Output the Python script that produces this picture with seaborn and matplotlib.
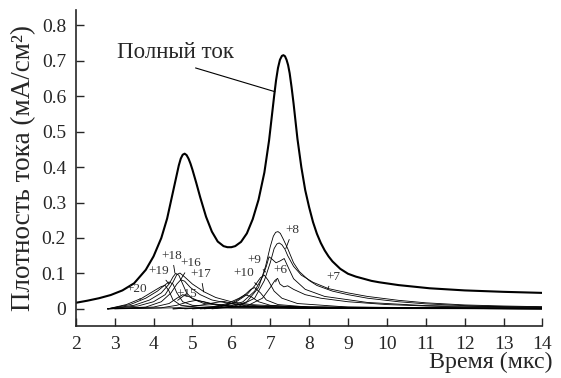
import numpy as np
import pandas as pd
import matplotlib
matplotlib.use("Agg")
import matplotlib.pyplot as plt
import seaborn as sns

# ---- total current (x: мкс, y: мА/см2) ----
total_t = [2.0, 2.3, 2.6, 2.9, 3.2, 3.5, 3.8, 4.0, 4.2, 4.35, 4.5, 4.6, 4.65,
           4.7, 4.75, 4.8, 4.85, 4.9, 4.95, 5.0, 5.1, 5.2, 5.35, 5.5, 5.65,
           5.8, 5.9, 6.0, 6.1, 6.25, 6.4, 6.55, 6.7, 6.85, 6.97, 7.1, 7.15,
           7.2, 7.25, 7.3, 7.34, 7.38, 7.42, 7.46, 7.5, 7.55, 7.6, 7.7, 7.8,
           7.9, 8.0, 8.1, 8.2, 8.3, 8.4, 8.5, 8.6, 8.8, 9.0, 9.2, 9.4, 9.6,
           9.8, 10.3, 11.1, 12.0, 13.0, 14.0]
total_j = [0.017, 0.023, 0.030, 0.039, 0.052, 0.072, 0.110, 0.148, 0.200, 0.255,
           0.330, 0.380, 0.405, 0.424, 0.435, 0.438, 0.434, 0.424, 0.410, 0.393,
           0.355, 0.315, 0.260, 0.218, 0.190, 0.177, 0.174, 0.174, 0.177, 0.189,
           0.213, 0.253, 0.308, 0.385, 0.475, 0.600, 0.645, 0.680, 0.703, 0.714,
           0.716, 0.713, 0.703, 0.688, 0.665, 0.625, 0.580, 0.480, 0.400, 0.335,
           0.287, 0.245, 0.212, 0.186, 0.165, 0.148, 0.134, 0.113, 0.099, 0.091,
           0.085, 0.079, 0.075, 0.067, 0.058, 0.052, 0.048, 0.045]

# ---- partial currents of charge states, (t, j) ----
c20 = [(2.82, 0), (3.3, 0.012), (3.7, 0.030), (4.0, 0.050), (4.2, 0.063), (4.3, 0.066),
       (4.4, 0.050), (4.5, 0.025), (4.7, 0.010), (5.2, 0.004), (6.0, 0.002), (8.0, 0.001), (14.0, 0)]
c19 = [(2.82, 0), (3.4, 0.012), (3.8, 0.030), (4.1, 0.050), (4.3, 0.068), (4.4, 0.076),
       (4.5, 0.070), (4.6, 0.045), (4.75, 0.020), (5.0, 0.010), (6.0, 0.004), (9.0, 0.002), (14.0, 0)]
c18 = [(2.82, 0), (3.5, 0.010), (3.9, 0.025), (4.2, 0.045), (4.4, 0.070), (4.5, 0.090),
       (4.57, 0.100), (4.65, 0.095), (4.75, 0.070), (4.85, 0.045), (5.0, 0.028), (5.3, 0.015),
       (6.0, 0.006), (14.0, 0.001)]
c17 = [(2.82, 0), (3.6, 0.008), (4.0, 0.020), (4.3, 0.040), (4.5, 0.075), (4.6, 0.097),
       (4.68, 0.101), (4.8, 0.090), (5.0, 0.070), (5.3, 0.048), (5.6, 0.032), (6.0, 0.020),
       (6.5, 0.012), (7.5, 0.006), (9.0, 0.003), (14.0, 0.001)]
c16 = [(2.82, 0), (3.8, 0.005), (4.2, 0.020), (4.45, 0.045), (4.6, 0.070), (4.7, 0.082),
       (4.8, 0.078), (4.95, 0.060), (5.2, 0.040), (5.5, 0.025), (6.0, 0.014), (7.0, 0.006), (14.0, 0.001)]
c15 = [(2.82, 0), (4.0, 0.005), (4.4, 0.015), (4.6, 0.030), (4.75, 0.040), (4.9, 0.035),
       (5.1, 0.025), (5.4, 0.016), (6.0, 0.008), (7.5, 0.003), (14.0, 0)]
c14 = [(2.82, 0), (4.2, 0.003), (4.6, 0.010), (4.9, 0.020), (5.1, 0.024), (5.3, 0.020),
       (5.6, 0.012), (6.2, 0.006), (8.0, 0.002), (14.0, 0)]
c13 = [(3.0, 0), (4.6, 0.003), (5.2, 0.010), (5.6, 0.018), (5.8, 0.021), (6.0, 0.016),
       (6.4, 0.008), (7.5, 0.003), (14.0, 0)]
c12 = [(4.5, 0), (5.5, 0.005), (5.9, 0.015), (6.2, 0.030), (6.35, 0.040), (6.5, 0.035),
       (6.7, 0.020), (7.0, 0.010), (8.0, 0.004), (14.0, 0)]
c11 = [(4.5, 0), (5.6, 0.005), (6.0, 0.015), (6.3, 0.035), (6.5, 0.055), (6.6, 0.060),
       (6.75, 0.045), (6.9, 0.025), (7.2, 0.012), (8.0, 0.005), (14.0, 0.001)]
c10 = [(4.8, 0), (5.7, 0.005), (6.1, 0.018), (6.4, 0.040), (6.6, 0.065), (6.75, 0.088),
       (6.85, 0.095), (6.95, 0.080), (7.1, 0.050), (7.3, 0.030), (7.7, 0.015), (9.0, 0.005), (14.0, 0.001)]
c9 = [(5.0, 0), (5.9, 0.005), (6.3, 0.020), (6.6, 0.050), (6.8, 0.090), (6.9, 0.120),
      (6.97, 0.147), (7.05, 0.140), (7.15, 0.130), (7.25, 0.135), (7.36, 0.142), (7.45, 0.120),
      (7.6, 0.085), (7.9, 0.055), (8.4, 0.035), (9.5, 0.018), (11.0, 0.009), (14.0, 0.004)]
c8 = [(5.2, 0), (6.0, 0.005), (6.4, 0.020), (6.7, 0.060), (6.88, 0.120), (7.0, 0.175),
      (7.08, 0.205), (7.14, 0.216), (7.2, 0.218), (7.26, 0.213), (7.33, 0.198), (7.45, 0.170),
      (7.6, 0.130), (7.75, 0.105), (8.0, 0.080), (8.2, 0.066), (8.6, 0.050), (9.0, 0.040),
      (9.5, 0.030), (10.3, 0.020), (11.0, 0.014), (12.0, 0.009), (13.0, 0.006), (14.0, 0.005)]
c7 = [(5.3, 0), (6.2, 0.008), (6.6, 0.030), (6.85, 0.080), (7.0, 0.130), (7.1, 0.170),
      (7.17, 0.183), (7.23, 0.186), (7.3, 0.181), (7.38, 0.168), (7.45, 0.150), (7.6, 0.120),
      (7.8, 0.095), (8.1, 0.075), (8.5, 0.057), (9.0, 0.045), (9.5, 0.035), (10.3, 0.024),
      (11.0, 0.017), (12.0, 0.011), (13.0, 0.008), (14.0, 0.006)]
c6 = [(5.5, 0), (6.4, 0.008), (6.8, 0.030), (7.0, 0.060), (7.12, 0.080), (7.19, 0.086),
      (7.25, 0.070), (7.35, 0.062), (7.45, 0.065), (7.6, 0.055), (7.9, 0.040), (8.3, 0.030),
      (9.0, 0.020), (10.0, 0.012), (11.0, 0.008), (12.0, 0.005), (14.0, 0.003)]

charges = {"+20": c20, "+19": c19, "+18": c18, "+17": c17, "+16": c16, "+15": c15,
           "+14": c14, "+13": c13, "+12": c12, "+11": c11, "+10": c10, "+9": c9,
           "+8": c8, "+7": c7, "+6": c6}

# label text position and the point the leader line touches
labels = {
    "+20": ((3.57, 0.055), (3.66, 0.026)),
    "+19": ((4.13, 0.107), (4.39, 0.071)),
    "+18": ((4.48, 0.149), (4.55, 0.101)),
    "+16": ((4.95, 0.128), (4.69, 0.081)),
    "+17": ((5.21, 0.098), (5.29, 0.048)),
    "+15": ((4.85, 0.043), (4.62, 0.024)),
    "+10": ((6.33, 0.100), (6.67, 0.067)),
    "+9":  ((6.58, 0.137), (6.88, 0.104)),
    "+6":  ((7.25, 0.109), (7.14, 0.076)),
    "+8":  ((7.58, 0.222), (7.40, 0.170)),
    "+7":  ((8.62, 0.090), (8.48, 0.057)),
}

rows = []
for q, pts in charges.items():
    for t, j in pts:
        rows.append({"charge": q, "t": t, "j": j})
parts = pd.DataFrame(rows)
tot = pd.DataFrame({"t": total_t, "j": total_j})

sns.set_style("ticks")
plt.rcParams["font.family"] = ["Liberation Serif", "DejaVu Serif"]

fig = plt.figure(figsize=(5.61, 3.78), dpi=100)
ax = fig.add_axes([0.135, 0.138, 0.832, 0.835])

sns.lineplot(data=parts, x="t", y="j", units="charge", estimator=None, sort=False,
             color="black", lw=0.6, ax=ax)
sns.lineplot(data=tot, x="t", y="j", sort=False, color="black", lw=1.5, ax=ax)

for q, (txt_xy, pt) in labels.items():
    ax.annotate(q, xy=pt, xytext=txt_xy, ha="center", va="center", fontsize=9.5,
                color="#333333",
                arrowprops=dict(arrowstyle="-", lw=0.6, color="black",
                                shrinkA=0, shrinkB=0))

# total current label with its leader line
ax.text(4.56, 0.725, "Полный ток", ha="center", va="center", fontsize=16.5)
ax.annotate("", xy=(7.12, 0.613), xytext=(5.08, 0.68),
            arrowprops=dict(arrowstyle="-", lw=0.8, color="black",
                            shrinkA=0, shrinkB=0))

ax.set_xlim(2, 14)
ax.set_ylim(-0.048, 0.843)
ax.set_xticks(range(2, 15))
ax.set_yticks(np.arange(0, 0.81, 0.1))
ax.set_yticklabels(["0"] + [f"{v:.1f}" for v in np.arange(0.1, 0.81, 0.1)])
ax.tick_params(direction="in", length=6, width=1, labelsize=14, pad=7)
ax.set_xlabel("")
ax.set_ylabel("Плотность тока (мА/см²)", fontsize=19.5, labelpad=4)
for s in ("top", "right"):
    ax.spines[s].set_visible(False)
for s in ("left", "bottom"):
    ax.spines[s].set_linewidth(1.2)

fig.text(0.984, 0.042, "Время (мкс)", ha="right", va="center", fontsize=17.3)

fig.savefig("out.png", dpi=100, facecolor="white")
